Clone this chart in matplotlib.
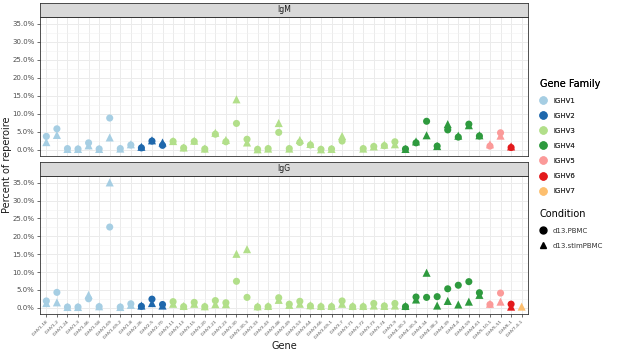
import numpy as np
import matplotlib.pyplot as plt
from matplotlib.lines import Line2D
from matplotlib.ticker import MultipleLocator, FuncFormatter

genes = ["IGHV1-18", "IGHV1-2", "IGHV1-24", "IGHV1-3", "IGHV1-46", "IGHV1-58", "IGHV1-69",
         "IGHV1-69-2", "IGHV1-8", "IGHV2-26", "IGHV2-5", "IGHV2-70", "IGHV3-11", "IGHV3-13",
         "IGHV3-15", "IGHV3-20", "IGHV3-21", "IGHV3-23", "IGHV3-30", "IGHV3-30-3", "IGHV3-33",
         "IGHV3-43", "IGHV3-48", "IGHV3-49", "IGHV3-53", "IGHV3-64", "IGHV3-66", "IGHV3-69-1",
         "IGHV3-7", "IGHV3-71", "IGHV3-72", "IGHV3-73", "IGHV3-74", "IGHV3-9", "IGHV4-30-2",
         "IGHV4-30-4", "IGHV4-34", "IGHV4-38-2", "IGHV4-39", "IGHV4-4", "IGHV4-59", "IGHV4-61",
         "IGHV5-10-1", "IGHV5-51", "IGHV6-1", "IGHV7-4-1"]
families = ["IGHV1", "IGHV2", "IGHV3", "IGHV4", "IGHV5", "IGHV6", "IGHV7"]
family_colors = ["#A6CEE3", "#1F68AC", "#B2DF8A", "#2E9A3E", "#FB9A99", "#E31A1C", "#FDBF6F"]
conditions = ["d13.PBMC", "d13.stimPBMC"]
nan = np.nan

igm_pbmc = [3.7, 5.8, 0.3, 0.2, 1.9, 0.2, 8.8, 0.3, 1.3, 0.5, 2.4, 1.2, 2.3, 0.5, 2.3, 0.2,
            4.3, 2.2, 7.3, 2.9, 0.1, 0.3, 4.8, 0.3, 2.0, 1.3, 0.1, 0.2, 2.4, nan, 0.3, 0.9,
            1.1, 2.2, 0.2, 1.9, 7.9, 1.0, 5.5, 3.5, 7.1, 3.8, 1.0, 4.7, 0.6, nan]
igm_stim = [2.1, 4.1, 0.2, 0.2, 1.2, 0.2, 3.4, 0.3, 1.5, 0.8, 2.6, 2.0, 2.4, 0.6, 2.5, 0.3,
            4.7, 2.7, 14.0, 2.0, 0.1, 0.3, 7.4, 0.3, 2.7, 1.6, 0.1, 0.2, 3.8, nan, 0.3, 0.9,
            1.4, 1.5, 0.2, 2.3, 4.0, 1.0, 7.1, 3.9, 6.8, 4.0, 1.5, 3.9, 0.9, nan]
igg_pbmc = [1.9, 4.3, 0.2, 0.2, 2.5, 0.3, 22.6, 0.2, 1.1, 0.4, 2.4, 0.9, 1.7, 0.3, 1.5, 0.3,
            2.0, 1.4, 7.4, 2.9, 0.2, 0.3, 2.8, 1.0, 1.8, 0.5, 0.3, 0.3, 1.9, 0.3, 0.3, 1.2,
            0.5, 1.2, 0.3, 3.0, 2.9, 3.1, 5.3, 6.3, 7.3, 4.2, 0.9, 4.1, 1.0, nan]
igg_stim = [1.3, 1.5, 0.2, 0.2, 3.6, 0.4, 35.1, 0.2, 0.8, 0.6, 1.3, 0.6, 1.1, 0.5, 1.1, 0.4,
            1.0, 1.0, 15.1, 16.4, 0.4, 0.5, 2.2, 0.8, 1.1, 0.7, 0.5, 0.5, 1.1, 0.5, 0.5, 0.6,
            0.5, 0.6, 0.5, 2.3, 9.8, 0.6, 1.9, 0.9, 1.7, 3.6, 1.1, 1.7, 0.3, 0.3]

panels = [("IgM", igm_pbmc, igm_stim), ("IgG", igg_pbmc, igg_stim)]

W, H = 617, 353
fig = plt.figure(figsize=(W / 100, H / 100), dpi=100)

def fbox(x0, y0, x1, y1):
    # pixel box (top-left origin) -> figure fraction
    return [x0 / W, 1 - y1 / H, (x1 - x0) / W, (y1 - y0) / H]

gene_color = [family_colors[families.index(g.split("-")[0])] for g in genes]
x = np.arange(len(genes))
pct = FuncFormatter(lambda v, p: f"{v:.1f}%")

panel_boxes = [(40, 17, 528, 156), (40, 176, 528, 314)]
strip_boxes = [(40, 3, 528, 17), (40, 162, 528, 176)]

for i, (name, pbmc, stim) in enumerate(panels):
    ax = fig.add_axes(fbox(*panel_boxes[i]))
    ax.set_axisbelow(True)
    ax.scatter(x, pbmc, c=gene_color, marker="o", s=26, linewidths=0, zorder=3)
    ax.scatter(x, stim, c=gene_color, marker="^", s=34, linewidths=0, zorder=3)
    ax.set_xlim(-0.6, len(genes) - 0.4)
    ax.set_ylim(-1.76, 36.9)
    ax.yaxis.set_major_locator(MultipleLocator(5))
    ax.yaxis.set_minor_locator(MultipleLocator(2.5))
    ax.yaxis.set_major_formatter(pct)
    ax.set_xticks(x)
    ax.grid(True, which="major", color="#EBEBEB", linewidth=0.7)
    ax.grid(True, which="minor", axis="y", color="#F2F2F2", linewidth=0.4)
    ax.tick_params(axis="y", which="major", labelsize=5.0, labelcolor="#4D4D4D",
                   color="#333333", length=2.5, width=0.5, pad=1.5)
    ax.tick_params(axis="y", which="minor", length=0)
    for s in ax.spines.values():
        s.set_color("#333333")
        s.set_linewidth(0.6)
    if i == 0:
        ax.tick_params(axis="x", length=0, labelbottom=False)
    else:
        ax.set_xticklabels(genes, rotation=45, ha="right", rotation_mode="anchor",
                           fontsize=3.2, color="#4D4D4D")
        ax.tick_params(axis="x", color="#333333", length=2.5, width=0.5, pad=1)

    sax = fig.add_axes(fbox(*strip_boxes[i]))
    sax.set_facecolor("#D9D9D9")
    sax.set_xticks([])
    sax.set_yticks([])
    for s in sax.spines.values():
        s.set_color("#333333")
        s.set_linewidth(0.6)
    sax.text(0.5, 0.5, name, ha="center", va="center", fontsize=5.6, color="#1A1A1A",
             transform=sax.transAxes)

fig.text(7 / W, 1 - 165 / H, "Percent of reperoire", rotation=90, ha="center", va="center",
         fontsize=7, color="#1A1A1A")
fig.text(284 / W, 1 - 346 / H, "Gene", ha="center", va="center", fontsize=7, color="#1A1A1A")

fam_handles = [Line2D([], [], marker="o", linestyle="", color=c, markersize=5)
               for c in family_colors]
leg1 = fig.legend(fam_handles, families, title="Gene Family", loc="upper left",
                  bbox_to_anchor=(537 / W, 1 - 76 / H), frameon=False, fontsize=5.0,
                  title_fontsize=7, labelspacing=1.3, handletextpad=0.9,
                  handlelength=1.0, borderaxespad=0, alignment="left", labelcolor="#333333")
cond_handles = [Line2D([], [], marker=m, linestyle="", color="black", markersize=5)
                for m in ["o", "^"]]
fig.legend(cond_handles, conditions, title="Condition", loc="upper left",
           bbox_to_anchor=(537 / W, 1 - 206 / H), frameon=False, fontsize=5.0,
           title_fontsize=7, labelspacing=1.3, handletextpad=0.9,
           handlelength=1.0, borderaxespad=0, alignment="left", labelcolor="#333333")
fig.add_artist(leg1)

fig.savefig("out.png", dpi=100)
